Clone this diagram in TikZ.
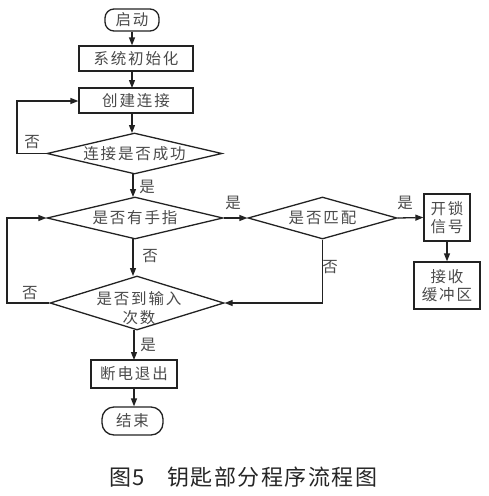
\documentclass[tikz,border=0pt]{standalone}
\usepackage{fontspec}
\newfontfamily\cjk[LetterSpace=12]{Noto Sans CJK SC}
\newfontfamily\capfont[LetterSpace=7]{Noto Sans CJK SC}
\usetikzlibrary{shapes.geometric,arrows.meta}
\definecolor{ln}{HTML}{222222}
\definecolor{tx}{HTML}{4A4A4A}
\begin{document}
\begin{tikzpicture}[x=1pt,y=-1pt,
  every node/.style={font=\cjk\fontsize{15.5}{20}\selectfont, text=tx},
  box/.style={draw=ln, line width=1.3pt, rectangle, inner sep=0pt},
  term/.style={draw=ln, line width=1.3pt, rectangle, rounded corners=9pt, inner sep=0pt},
  dec/.style={draw=ln, line width=1.3pt, diamond, inner sep=0pt, aspect=4},
  arr/.style={draw=ln, line width=1.3pt, -{Triangle[length=8pt,width=6pt]}},
  lab/.style={inner sep=0pt}]
\useasboundingbox (0,0) rectangle (489,496);
\node[term, minimum width=54pt, minimum height=22pt] (start) at (132,20) {启动};
\node[box, minimum width=114pt, minimum height=25pt] (init) at (136,58.5) {系统初始化};
\node[box, minimum width=114pt, minimum height=25pt] (conn) at (136,100.5) {创建连接};
\node[dec, minimum width=175pt, minimum height=41pt] (d1) at (134.5,153.5) {连接是否成功};
\node[dec, minimum width=176pt, minimum height=42pt] (d2) at (135,218) {是否有手指};
\node[dec, minimum width=149pt, minimum height=42pt] (d4) at (322.5,218) {是否匹配};
\node[box, minimum width=46pt, minimum height=47pt, align=center] (unlock) at (447,217.5) {开锁\\[-2pt]信号};
\node[box, minimum width=66pt, minimum height=47pt, align=center] (recv) at (447,285.5) {接收\\[-2pt]缓冲区};
\node[dec, minimum width=174pt, minimum height=54pt] (d3) at (137,303) {};
\node[align=center, inner sep=0pt] (d3t) at (139,308) {是否到输入\\[-1pt]次数};
\node[box, minimum width=86pt, minimum height=28pt] (off) at (134,374) {断电退出};
\node[term, minimum width=61pt, minimum height=28pt, rounded corners=12pt] (end) at (132.5,421) {结束};
\node[inner sep=0pt, font=\capfont\fontsize{22}{26}\selectfont, text=black!85] (cap) at (243.5,477) {图5\hspace{22pt}钥匙部分程序流程图};

\coordinate (l1) at (17,153.5);
\coordinate (l1u) at (17,101);
\coordinate (l3) at (7,303);
\coordinate (l3u) at (7,218);
\coordinate (m1) at (322.5,303);

\draw[arr] (start.south) -- (start.south |- init.north);
\draw[arr] (132,71) -- (132,88);
\draw[arr] (132,113) -- (132,133);
\draw[arr] (d1.west) -- (l1) -- (l1u) -- (conn.west |- l1u);
\draw[arr] (133,174) -- (133,197);
\draw[arr] (d2.east) -- (d4.west);
\draw[arr] (d4.east) -- (unlock.west);
\draw[arr] (unlock.south) -- (recv.north);
\draw[arr] (133,239) -- (133,276);
\draw[arr] (d4.south) -- (m1) -- (d3.east);
\draw[arr] (d3.west) -- (l3) -- (l3u) -- (d2.west);
\draw[arr] (134,330) -- (134,360);
\draw[arr] (off.south) -- (off.south |- end.north);

\node[lab] (n1) at (32,142) {否};
\node[lab] (y1) at (147,187) {是};
\node[lab] (y2) at (233,203) {是};
\node[lab] (y3) at (405,203) {是};
\node[lab] (n2) at (150,256) {否};
\node[lab] (n3) at (330,267) {否};
\node[lab] (n4) at (30,293) {否};
\node[lab] (y4) at (148,345) {是};
\end{tikzpicture}
\end{document}
